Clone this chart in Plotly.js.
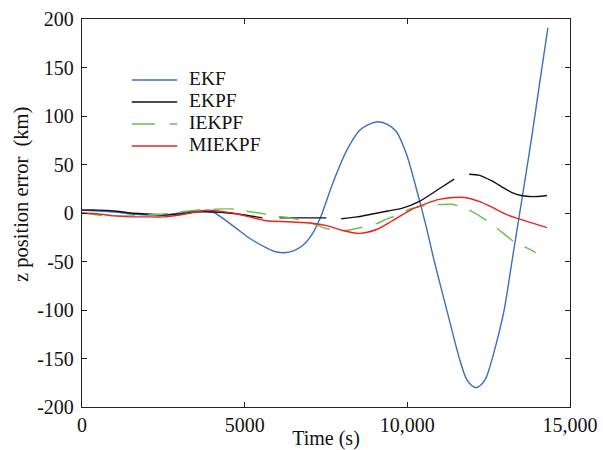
<!DOCTYPE html>
<html>
<head>
<meta charset="utf-8">
<script src="https://cdn.plot.ly/plotly-3.0.1.min.js"></script>
<style>html,body{margin:0;padding:0;background:#fff;}#chart{width:603px;height:450px;}</style>
</head>
<body>
<div id="chart"></div>
<script>
// EKF
var ekfT = [0,500,1000,1500,2000,2500,3000,3500,4020,4630,5150,5670,5950,6230,6500,6800,7090,7360,7700,8130,8530,8800,9110,9400,9660,9970,10270,10580,10830,11190,11600,11800,11950,12110,12270,12420,12610,12970,13220,13430,13800,14050,14320];
var ekfV = [3,2,1,-1,-2,-2,0,2,1,-13,-26,-36,-40,-41,-39,-33,-21,-2,30,64,85,91,94,91,84,61,26,-14,-50,-97,-150,-170,-177,-180,-177,-170,-150,-101,-49,-5,73,130,191];
// EKPF (with gaps)
var ekpfT = [0,500,1000,1500,2000,2500,3000,3500,4000,4500,5000,5550,5800,6070,6500,7000,7510,7700,7970,8450,8930,9400,9850,10370,10980,11440,11650,11900,12200,12600,12900,13220,13500,13740,14000,14290];
var ekpfV = [3,3,2,0,-1,-2,-1,1,1,0,-2,-5,null,-5,-5,-5,-5,null,-6,-4,-1,2,5,12,25,35,null,40,39,33,27,21,18,17,17,18];
// IEKPF
var iekpfT = [0,500,1000,1500,2000,2500,3000,3500,4140,4750,5210,5460,5860,6380,7000,7510,8130,8430,9050,9450,9660,10060,10670,11200,11380,11840,12360,12730,13340,13740,13950];
var iekpfV = [0,-2,-3,-3,-2,-1,1,3,4,4,1,0,-3,-5,-10,-16,-18,-16,-11,-5,-3,4,8,9,9,4,-6,-15,-31,-37,-41];
// MIEKPF
var miekpfT = [0,500,1000,1500,2000,2500,3000,3500,3850,4630,5150,5670,6300,6900,7510,8010,8530,9050,9540,10150,10600,10980,11400,11750,12200,12600,13000,13430,13900,14290];
var miekpfV = [0,-1,-3,-4,-4,-4,-2,1,3,0,-4,-8,-9,-10,-13,-18,-21,-17,-8,4,10,14,16,16,12,6,-1,-6,-11,-15];

var seriesNames = ['EKF','EKPF','IEKPF','MIEKPF'];
var seriesColors = ['#3b6fc2','#111111','#6cbf4a','#ee2020'];
var seriesDash = ['solid','solid','20px,13px','solid'];
var seriesT = [ekfT, ekpfT, iekpfT, miekpfT];
var seriesV = [ekfV, ekpfV, iekpfV, miekpfV];

var xTickVals = [0,5000,10000,15000];
var xTickText = ['0','5000','10,000','15,000'];
var yTickVals = [-200,-150,-100,-50,0,50,100,150,200];
var yTickText = ['-200','-150','-100','-50','0','50','100','150','200'];
var xTitle = 'Time (s)';
var yTitle = 'z position error\u00a0 (km)';

var serif = '"Liberation Serif", "Times New Roman", serif';

var traces = seriesNames.map(function(n, i){
  return {x: seriesT[i], y: seriesV[i], name: n, mode: 'lines', connectgaps: false,
    line: {color: seriesColors[i], width: 1.4, dash: seriesDash[i], shape: 'spline', smoothing: 0.7}};
});

// manual legend (paper coordinates)
var shapes = [], annotations = [];
var legX0 = 0.102, legX1 = 0.195, legTextX = 0.215, legY0 = 0.8428, legStep = 0.0567;
seriesNames.forEach(function(n, i){
  var yy = legY0 - i*legStep;
  shapes.push({type: 'line', xref: 'paper', yref: 'paper', x0: legX0, x1: legX1, y0: yy, y1: yy,
    line: {color: seriesColors[i], width: 1.6, dash: i === 2 ? '23px,15px' : 'solid'}});
  annotations.push({xref: 'paper', yref: 'paper', x: legTextX, y: yy + 0.003, xanchor: 'left', yanchor: 'middle',
    text: n, showarrow: false, font: {family: serif, size: 19.5, color: '#111'}});
});
// y-axis title
annotations.push({xref: 'paper', yref: 'paper', x: -0.123, y: 0.549, xanchor: 'center', yanchor: 'middle',
  textangle: -90, text: yTitle, showarrow: false, font: {family: serif, size: 20.5, color: '#111'}});

var layout = {
  width: 603, height: 450,
  margin: {l: 82, r: 33, t: 19, b: 43},
  paper_bgcolor: '#fff', plot_bgcolor: '#fff',
  font: {family: serif, size: 20, color: '#111'},
  showlegend: false,
  shapes: shapes, annotations: annotations,
  xaxis: {
    range: [0, 15000], tickvals: xTickVals, ticktext: xTickText,
    showline: true, linecolor: '#222', linewidth: 1.2, mirror: 'ticks',
    ticks: 'inside', ticklen: 5, tickcolor: '#222', showgrid: false, zeroline: false,
    ticklabelstandoff: 0, tickfont: {family: serif, size: 20},
    title: {text: xTitle, standoff: 0, font: {family: serif, size: 20}}
  },
  yaxis: {
    range: [-200, 200], tickvals: yTickVals, ticktext: yTickText,
    showline: true, linecolor: '#222', linewidth: 1.2, mirror: 'ticks',
    ticks: 'inside', ticklen: 5, tickcolor: '#222', showgrid: false, zeroline: false,
    ticklabelstandoff: 3, tickfont: {family: serif, size: 20}
  }
};

Plotly.newPlot('chart', traces, layout, {staticPlot: true, displayModeBar: false});
</script>
</body>
</html>
